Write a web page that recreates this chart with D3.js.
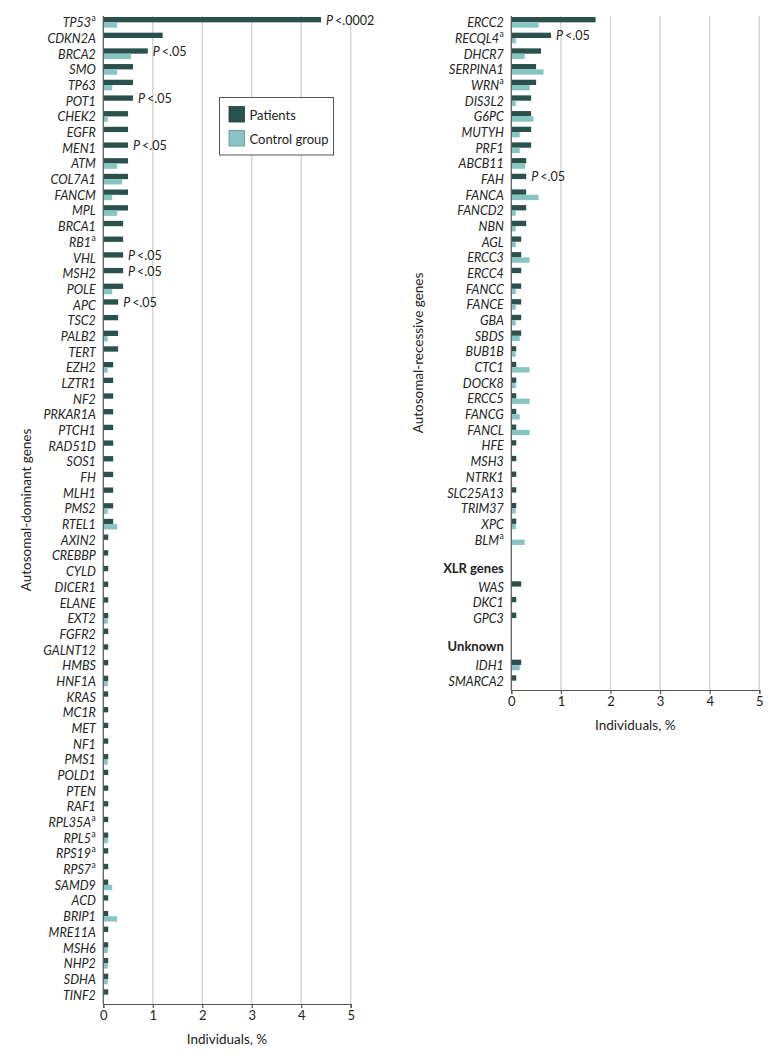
<!DOCTYPE html>
<html>
<head>
<meta charset="utf-8">
<script src="https://cdn.jsdelivr.net/npm/d3@7"></script>
<style>
  html, body { margin: 0; padding: 0; background: #fff; }
  svg { display: block; font-family: Lato, "Open Sans", sans-serif; }
</style>
</head>
<body>
<svg id="chart" width="780" height="1059"></svg>
<script>
// ---------- DATA ----------
// Autosomal-dominant genes (left panel)
const adGenes = ["TP53","CDKN2A","BRCA2","SMO","TP63","POT1","CHEK2","EGFR","MEN1","ATM","COL7A1","FANCM","MPL","BRCA1","RB1","VHL","MSH2","POLE","APC","TSC2","PALB2","TERT","EZH2","LZTR1","NF2","PRKAR1A","PTCH1","RAD51D","SOS1","FH","MLH1","PMS2","RTEL1","AXIN2","CREBBP","CYLD","DICER1","ELANE","EXT2","FGFR2","GALNT12","HMBS","HNF1A","KRAS","MC1R","MET","NF1","PMS1","POLD1","PTEN","RAF1","RPL35A","RPL5","RPS19","RPS7","SAMD9","ACD","BRIP1","MRE11A","MSH6","NHP2","SDHA","TINF2"];
const adPatients = [4.4,1.2,0.9,0.6,0.6,0.6,0.5,0.5,0.5,0.5,0.5,0.5,0.5,0.4,0.4,0.4,0.4,0.4,0.3,0.3,0.3,0.3,0.2,0.2,0.2,0.2,0.2,0.2,0.2,0.2,0.2,0.2,0.2,0.1,0.1,0.1,0.1,0.1,0.1,0.1,0.1,0.1,0.1,0.1,0.1,0.1,0.1,0.1,0.1,0.1,0.1,0.1,0.1,0.1,0.1,0.1,0.1,0.1,0.1,0.1,0.1,0.1,0.1];
const adControl  = [0.28,0,0.56,0.28,0.18,0,0.09,0,0,0.28,0.38,0.18,0.28,0,0,0,0,0.18,0,0,0.09,0,0.09,0,0,0,0,0,0,0,0,0.09,0.28,0,0,0,0,0,0.09,0,0,0,0.09,0,0,0,0,0.09,0,0,0,0,0.09,0,0,0.18,0,0.28,0,0.09,0.09,0.09,0];
const adSup = ["TP53","RB1","RPL35A","RPL5","RPS19","RPS7"];
const adPval = {"TP53": "<.0002", "BRCA2": "<.05", "POT1": "<.05", "MEN1": "<.05", "VHL": "<.05", "MSH2": "<.05", "APC": "<.05"};

// Autosomal-recessive genes (right panel)
const arGenes = ["ERCC2","RECQL4","DHCR7","SERPINA1","WRN","DIS3L2","G6PC","MUTYH","PRF1","ABCB11","FAH","FANCA","FANCD2","NBN","AGL","ERCC3","ERCC4","FANCC","FANCE","GBA","SBDS","BUB1B","CTC1","DOCK8","ERCC5","FANCG","FANCL","HFE","MSH3","NTRK1","SLC25A13","TRIM37","XPC","BLM"];
const arPatients = [1.7,0.8,0.6,0.5,0.5,0.4,0.4,0.4,0.4,0.3,0.3,0.3,0.3,0.3,0.2,0.2,0.2,0.2,0.2,0.2,0.2,0.1,0.1,0.1,0.1,0.1,0.1,0.1,0.1,0.1,0.1,0.1,0.1,0];
const arControl  = [0.55,0.09,0.27,0.65,0.37,0.09,0.45,0.17,0.17,0.28,0,0.55,0.09,0.09,0.09,0.37,0,0.09,0.09,0.09,0.17,0.09,0.37,0.09,0.37,0.17,0.37,0,0,0,0,0.09,0.09,0.27];
// X-linked recessive genes
const xlrGenes = ["WAS","DKC1","GPC3"];
const xlrPatients = [0.2,0.1,0.1];
const xlrControl  = [0,0,0];
// Unknown inheritance
const unkGenes = ["IDH1","SMARCA2"];
const unkPatients = [0.2,0.1];
const unkControl  = [0.17,0];
const rightSup = ["RECQL4","WRN","BLM"];
const rightPval = {"RECQL4": "<.05", "FAH": "<.05"};

const xTicks = [0,1,2,3,4,5];

// ---------- STYLE ----------
const C_PAT = "#2b514d";
const C_CTL = "#86c5c1";
const C_GRID = "#d4d4d4";
const C_AXIS = "#555";

const svg = d3.select("#chart");

function buildRows(genes, pat, ctl) {
  return genes.map((g, i) => ({type: "gene", name: g, p: pat[i], c: ctl[i]}));
}

function panel(opts) {
  const {rows, x0, x1, top, bottom, sup, pval, yTitle} = opts;
  const g = svg.append("g");
  const x = d3.scaleLinear().domain([0, 5]).range([x0, x1]);
  const y = d3.scaleBand().domain(d3.range(rows.length)).range([top, bottom]).paddingInner(0);
  const bw = y.bandwidth();
  const bh = bw * 0.34;

  // gridlines
  g.append("g").selectAll("line").data(xTicks.filter(t => t > 0)).join("line")
    .attr("x1", d => x(d)).attr("x2", d => x(d))
    .attr("y1", top).attr("y2", bottom)
    .attr("stroke", C_GRID).attr("stroke-width", 1.4);

  const geneRows = rows.map((r, i) => ({...r, i})).filter(r => r.type === "gene");

  // patient bars
  g.append("g").selectAll("rect").data(geneRows.filter(r => r.p > 0)).join("rect")
    .attr("x", x(0)).attr("y", d => y(d.i) + 1)
    .attr("width", d => x(d.p) - x(0)).attr("height", bh)
    .attr("fill", C_PAT);
  // control bars
  g.append("g").selectAll("rect").data(geneRows.filter(r => r.c > 0)).join("rect")
    .attr("x", x(0)).attr("y", d => y(d.i) + 1 + bh)
    .attr("width", d => x(d.c) - x(0)).attr("height", bh)
    .attr("fill", C_CTL);

  // P-value annotations
  g.append("g").selectAll("text").data(geneRows.filter(r => pval[r.name])).join("text")
    .attr("x", d => x(d.p) + 5).attr("y", d => y(d.i) + 1 + bh / 2)
    .attr("dominant-baseline", "central")
    .attr("font-size", 12.5).attr("fill", "#222")
    .each(function(d) {
      const t = d3.select(this);
      t.append("tspan").attr("font-style", "italic").text("P");
      t.append("tspan").attr("dx", 2).text(pval[d.name]);
    });

  // y labels
  const lab = g.append("g").selectAll("text").data(rows.map((r, i) => ({...r, i})).filter(r => r.type !== "blank")).join("text")
    .attr("x", x(0) - 7.5)
    .attr("y", d => y(d.i) + bw * 0.4)
    .attr("text-anchor", "end")
    .attr("dominant-baseline", "central")
    .attr("fill", "#222");
  lab.each(function(d) {
    const t = d3.select(this);
    if (d.type === "header") {
      t.attr("font-size", 13).attr("font-weight", "bold").attr("y", y(d.i) + bw * 0.2).text(d.name);
    } else {
      t.attr("font-size", 12.5);
      t.append("tspan").attr("font-style", "italic").text(d.name);
      if (sup.includes(d.name)) {
        t.append("tspan").attr("font-size", 8.5).attr("dy", -4).attr("dx", 0.5).text("a");
      }
    }
  });

  // axes
  const xAxis = d3.axisBottom(x).tickValues(xTicks).tickSize(4).tickPadding(3).tickFormat(d3.format("d"));
  const ax = g.append("g").attr("transform", `translate(0,${bottom})`).call(xAxis);
  ax.select(".domain").attr("stroke", C_AXIS).attr("stroke-width", 1.2);
  ax.selectAll(".tick line").attr("stroke", C_AXIS).attr("stroke-width", 1.2);
  ax.selectAll(".tick text").attr("font-size", 13).attr("fill", "#222").attr("font-family", "Lato, sans-serif");

  g.append("line").attr("x1", x(0)).attr("x2", x(0)).attr("y1", top).attr("y2", bottom)
    .attr("stroke", C_AXIS).attr("stroke-width", 1.2);

  g.append("text").attr("x", (x0 + x1) / 2).attr("y", bottom + 40)
    .attr("text-anchor", "middle").attr("font-size", 13.5).attr("fill", "#222")
    .text("Individuals, %");

  g.append("text")
    .attr("transform", `translate(${yTitle.x},${(top + bottom) / 2}) rotate(-90)`)
    .attr("text-anchor", "middle").attr("dominant-baseline", "central")
    .attr("font-size", 13.5).attr("fill", "#222")
    .text(yTitle.text);
}

// left panel
panel({
  rows: buildRows(adGenes, adPatients, adControl),
  x0: 103.3, x1: 350.7, top: 16, bottom: 1004,
  sup: adSup, pval: adPval,
  yTitle: {x: 25.5, text: "Autosomal-dominant genes"}
});

// right panel
const rightRows = [
  ...buildRows(arGenes, arPatients, arControl),
  {type: "blank"},
  {type: "header", name: "XLR genes"},
  ...buildRows(xlrGenes, xlrPatients, xlrControl),
  {type: "blank"},
  {type: "header", name: "Unknown"},
  ...buildRows(unkGenes, unkPatients, unkControl)
];
panel({
  rows: rightRows,
  x0: 511.3, x1: 759.3, top: 16, bottom: 690,
  sup: rightSup, pval: rightPval,
  yTitle: {x: 418, text: "Autosomal-recessive genes"}
});

// legend
const leg = svg.append("g");
leg.append("rect").attr("x", 219.5).attr("y", 97.5).attr("width", 114).attr("height", 57.5)
  .attr("fill", "#fff").attr("stroke", "#555").attr("stroke-width", 1);
const legItems = [{label: "Patients", color: C_PAT, stroke: "#1e3b38"}, {label: "Control group", color: C_CTL, stroke: "#5f8f8c"}];
leg.selectAll("g.item").data(legItems).join("g").attr("class", "item")
  .attr("transform", (d, i) => `translate(229,${106.5 + i * 24})`)
  .each(function(d) {
    const gi = d3.select(this);
    gi.append("rect").attr("width", 15.5).attr("height", 15.5).attr("fill", d.color)
      .attr("stroke", d.stroke).attr("stroke-width", 0.8);
    gi.append("text").attr("x", 20.5).attr("y", 8).attr("dominant-baseline", "central")
      .attr("font-size", 13).attr("fill", "#222").text(d.label);
  });
</script>
</body>
</html>
